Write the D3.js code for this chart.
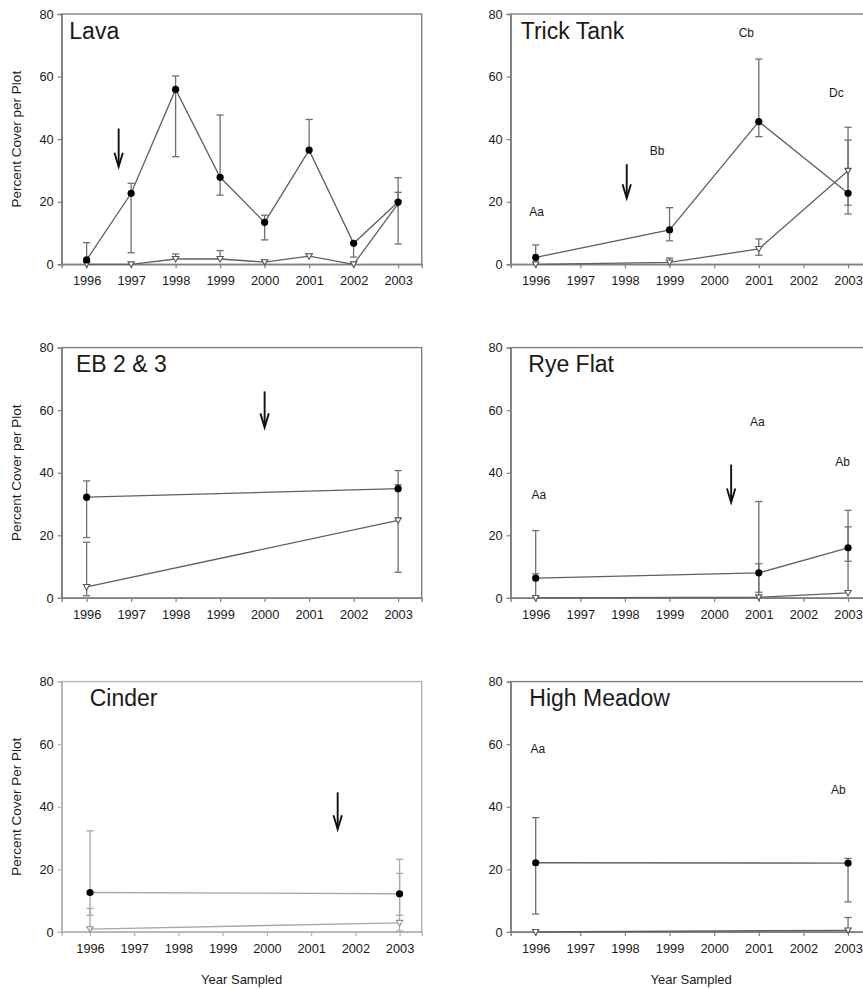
<!DOCTYPE html>
<html><head><meta charset="utf-8">
<script src="https://cdn.jsdelivr.net/npm/d3@7"></script>
<style>body{margin:0;background:#fff;} svg{display:block;} text{font-family:"Liberation Sans",Arial,sans-serif;fill:#1a1a1a;}</style>
</head><body><svg id="c" width="863" height="989"></svg>
<script>
// ---- data ----
const yearTicks = [1996,1997,1998,1999,2000,2001,2002,2003];
const yTicks = [0,20,40,60,80];

const lavaYears = [1996,1997,1998,1999,2000,2001,2002,2003];
const lavaSolid   = [1.4,22.7,55.9,27.8,13.4,36.5,6.7,19.9];
const lavaSolidHi = [6.9,25.9,60.2,47.7,15.7,46.3,null,27.7];
const lavaSolidLo = [null,3.7,34.4,22.1,7.8,null,2.3,null];
const lavaOpen    = [0,0,1.7,1.7,0.7,2.6,0,19.4];
const lavaOpenHi  = [null,null,3.3,4.4,1.3,3.3,null,23.0];
const lavaOpenLo  = [null,null,null,null,null,null,null,6.5];
const lavaArrow   = [1996.72,43.4,31.2];

const trickYears = [1996,1999,2001,2003];
const trickSolid   = [2.2,11.0,45.6,22.7];
const trickSolidHi = [6.2,18.1,65.6,39.7];
const trickSolidLo = [null,7.5,40.8,18.9];
const trickOpen    = [0,0.6,4.9,29.9];
const trickOpenHi  = [null,2.0,8.1,43.8];
const trickOpenLo  = [null,null,2.9,16.1];
const trickArrow   = [1998.04,32.0,21.1];
const trickLetters = ["Aa","Bb","Cb","Dc"];
const trickLetterX = [1996.02,1998.72,2000.72,2002.74];
const trickLetterY = [16.7,36.2,73.8,54.8];

const ebYears = [1996,2003];
const ebSolid   = [32.2,34.9];
const ebSolidHi = [37.4,40.7];
const ebSolidLo = [19.3,null];
const ebOpen    = [3.5,24.8];
const ebOpenHi  = [17.8,36.2];
const ebOpenLo  = [0.7,8.2];
const ebArrow   = [2000.0,66.0,54.5];

const ryeYears = [1996,2001,2003];
const ryeSolid   = [6.3,8.0,16.0];
const ryeSolidHi = [21.5,30.8,28.0];
const ryeSolidLo = [null,1.8,11.7];
const ryeOpen    = [0,0.2,1.6];
const ryeOpenHi  = [7.7,10.9,22.7];
const ryeOpenLo  = [null,null,null];
const ryeArrow   = [2000.38,42.6,30.5];
const ryeLetters = ["Aa","Aa","Ab"];
const ryeLetterX = [1996.07,2000.97,2002.88];
const ryeLetterY = [32.8,56.1,43.3];

const cinderYears = [1996,2003];
const cinderSolid   = [12.6,12.2];
const cinderSolidHi = [32.3,23.2];
const cinderSolidLo = [5.3,5.3];
const cinderOpen    = [0.9,2.9];
const cinderOpenHi  = [7.5,18.7];
const cinderOpenLo  = [null,0.3];
const cinderArrow   = [2001.6,44.6,32.8];

const meadowYears = [1996,2003];
const meadowSolid   = [22.1,22.0];
const meadowSolidHi = [36.5,23.5];
const meadowSolidLo = [5.7,9.6];
const meadowOpen    = [0,0.5];
const meadowOpenHi  = [null,4.6];
const meadowOpenLo  = [null,null];
const meadowLetters = ["Aa","Ab"];
const meadowLetterX = [1996.05,2002.78];
const meadowLetterY = [58.6,45.3];

// ---- panels (layout separate from data) ----
const panels = [
  {title:"Lava", years:lavaYears, s:lavaSolid, sHi:lavaSolidHi, sLo:lavaSolidLo, o:lavaOpen, oHi:lavaOpenHi, oLo:lavaOpenLo, arrow:lavaArrow,
   col:0,row:0, titleDx:7.6, ylab:"Percent Cover per Plot"},
  {title:"Trick Tank", years:trickYears, s:trickSolid, sHi:trickSolidHi, sLo:trickSolidLo, o:trickOpen, oHi:trickOpenHi, oLo:trickOpenLo, arrow:trickArrow,
   letters:trickLetters, lx:trickLetterX, ly:trickLetterY, col:1,row:0, titleDx:10},
  {title:"EB 2 & 3", years:ebYears, s:ebSolid, sHi:ebSolidHi, sLo:ebSolidLo, o:ebOpen, oHi:ebOpenHi, oLo:ebOpenLo, arrow:ebArrow,
   col:0,row:1, titleDx:14.3, ylab:"Percent Cover per Plot"},
  {title:"Rye Flat", years:ryeYears, s:ryeSolid, sHi:ryeSolidHi, sLo:ryeSolidLo, o:ryeOpen, oHi:ryeOpenHi, oLo:ryeOpenLo, arrow:ryeArrow,
   letters:ryeLetters, lx:ryeLetterX, ly:ryeLetterY, col:1,row:1, titleDx:17.6},
  {title:"Cinder", years:cinderYears, s:cinderSolid, sHi:cinderSolidHi, sLo:cinderSolidLo, o:cinderOpen, oHi:cinderOpenHi, oLo:cinderOpenLo, arrow:cinderArrow,
   col:0,row:2, titleDx:28, ylab:"Percent Cover Per Plot", xlab:"Year Sampled", light:true, domain:[1995.36,2003.5]},
  {title:"High Meadow", years:meadowYears, s:meadowSolid, sHi:meadowSolidHi, sLo:meadowSolidLo, o:meadowOpen, oHi:meadowOpenHi, oLo:meadowOpenLo,
   letters:meadowLetters, lx:meadowLetterX, ly:meadowLetterY, col:1,row:2, titleDx:18.6, xlab:"Year Sampled"}
];

const colX = [61.7, 510.7], colW = [360, 361];
const rowY = [14, 347.6, 681.6], plotH = 250.3;

const svg = d3.select("#c");

panels.forEach(p => {
  const x0 = colX[p.col], y0 = rowY[p.row], w = colW[p.col];
  const axisCol = p.light ? "#b4b4b4" : "#808080";
  const lineCol = p.light ? "#a8a8a8" : "#606060";
  const errCol  = p.light ? "#a8a8a8" : "#707070";
  const x = d3.scaleLinear().domain(p.domain || [1995.44, 2003.53]).range([0, w]);
  const y = d3.scaleLinear().domain([0,80]).range([plotH, 0]);
  const g = svg.append("g").attr("transform", `translate(${x0},${y0})`);

  // frame
  g.append("rect").attr("x",0).attr("y",0).attr("width",w).attr("height",plotH)
    .attr("fill","none").attr("stroke",axisCol).attr("stroke-width",1.4);

  // axes
  const ya = g.append("g").call(d3.axisLeft(y).tickValues(yTicks).tickSize(4).tickPadding(4).tickFormat(d3.format("d")));
  const xa = g.append("g").attr("transform",`translate(0,${plotH})`)
    .call(d3.axisBottom(x).tickValues(yearTicks).tickSize(4).tickPadding(8).tickFormat(d3.format("d")));
  [ya,xa].forEach(a => {
    a.select(".domain").attr("stroke",axisCol).attr("stroke-width",1.4);
    a.selectAll(".tick line").attr("stroke",axisCol).attr("stroke-width",1.2);
    a.selectAll(".tick text").attr("font-size","12.8px").attr("fill","#262626")
      .attr("font-family","Liberation Sans, Arial, sans-serif");
  });

  // lines
  const solidPts = p.years.map((yr,i)=>[yr,p.s[i]]);
  const openPts = p.years.map((yr,i)=>[yr,p.o[i]]);
  const line = d3.line().x(d=>x(d[0])).y(d=>y(d[1]));
  g.append("path").attr("d",line(openPts)).attr("fill","none").attr("stroke",lineCol).attr("stroke-width",1.3);
  g.append("path").attr("d",line(solidPts)).attr("fill","none").attr("stroke",lineCol).attr("stroke-width",1.3);

  // error bars
  const errs = [];
  p.years.forEach((yr,i)=>{
    [[p.s[i],p.sHi[i]],[p.s[i],p.sLo[i]],[p.o[i],p.oHi[i]],[p.o[i],p.oLo[i]]].forEach(([v,e])=>{
      if (e !== null && e !== undefined) errs.push({yr, v, e});
    });
  });
  const eg = g.append("g").attr("stroke",errCol).attr("stroke-width",1.3);
  errs.forEach(d=>{
    eg.append("line").attr("x1",x(d.yr)).attr("x2",x(d.yr)).attr("y1",y(d.v)).attr("y2",y(d.e));
    eg.append("line").attr("x1",x(d.yr)-3.6).attr("x2",x(d.yr)+3.6).attr("y1",y(d.e)).attr("y2",y(d.e));
  });

  // markers
  const tri = d3.symbol().type(d3.symbolTriangle).size(17);
  g.selectAll(".open").data(openPts).join("path")
    .attr("transform",d=>`translate(${x(d[0])},${y(d[1])-0.6}) rotate(180)`)
    .attr("d",tri()).attr("fill","#fff").attr("stroke",p.light?"#909090":"#555").attr("stroke-width",1.1);
  g.selectAll(".solid").data(solidPts).join("circle")
    .attr("cx",d=>x(d[0])).attr("cy",d=>y(d[1])).attr("r",3.6).attr("fill","#000");

  // title
  g.append("text").attr("x",p.titleDx).attr("y",24.5).attr("font-size","23px").attr("fill","#111").text(p.title);

  // letters
  if (p.letters) {
    g.selectAll(".lt").data(p.letters).join("text")
      .attr("x",(d,i)=>x(p.lx[i])).attr("y",(d,i)=>y(p.ly[i]))
      .attr("text-anchor","middle").attr("dominant-baseline","central")
      .attr("font-size","12px").attr("fill","#222").text(d=>d);
  }

  // arrow
  if (p.arrow) {
    const [ax, aTop, aBot] = p.arrow;
    const xa0 = x(ax), yt = y(aTop), yb = y(aBot);
    g.append("line").attr("x1",xa0).attr("x2",xa0).attr("y1",yt).attr("y2",yb-1)
      .attr("stroke","#111").attr("stroke-width",1.9);
    g.append("path").attr("d",`M${xa0-4.2},${yb-14} L${xa0},${yb} L${xa0+4.2},${yb-14}`)
      .attr("fill","none").attr("stroke","#111").attr("stroke-width",1.9).attr("stroke-linejoin","miter");
  }

  // y label
  if (p.ylab) {
    svg.append("text").attr("transform",`translate(16,${y0+plotH/2}) rotate(-90)`)
      .attr("text-anchor","middle").attr("dominant-baseline","central")
      .attr("font-size","13.5px").attr("fill","#222").text(p.ylab);
  }
  if (p.xlab) {
    svg.append("text").attr("x",x0+w/2).attr("y",y0+plotH+52)
      .attr("text-anchor","middle").attr("font-size","13px").attr("fill","#222").text(p.xlab);
  }
});
</script></body></html>
